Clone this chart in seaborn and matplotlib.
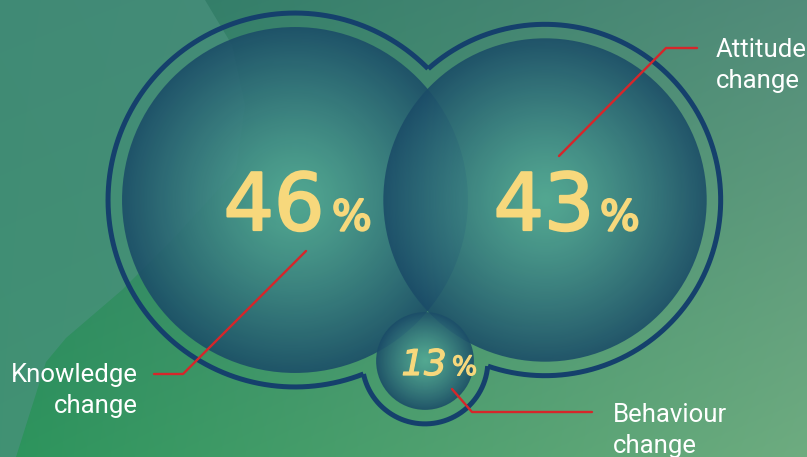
import numpy as np
import pandas as pd
import matplotlib
matplotlib.use("Agg")
import matplotlib.pyplot as plt
import matplotlib.patheffects as pe
import seaborn as sns
from matplotlib.patches import Circle, Polygon

# --- data -------------------------------------------------------------
categories = ["Knowledge\nchange", "Attitude\nchange", "Behaviour\nchange"]
shares = [46, 43, 13]

# --- layout (pixels, y grows downwards) -------------------------------
W, H = 807, 457
centers = [(295, 200), (545, 200), (425, 361)]
px_per_pct = 3.76          # circle radius per percentage point
ring_gap = 14              # distance from bubble edge to the outline
digit_size = [57, 57, 25.5]
pct_size = [30, 30, 19]
digit_pos = [(274, 230), (544, 230), (424, 375)]
pct_left = [332, 600, 452]
digit_style = ["normal", "normal", "italic"]
digit_stroke = [1.6, 1.6, 0.9]
label_pos = [(138, 382, "right"), (716, 57, "left"), (613, 422, "left")]
label_step = 31
leaders = [
    [(306, 251), (183, 374), (154, 374)],
    [(559, 156), (666, 48), (697, 48)],
    [(452, 389), (472, 412), (592, 412)],
]

YELLOW = "#f7d87c"
NAVY = "#15406c"
RED = "#d6262a"

sns.set_theme(style="white")
plt.rcParams["font.family"] = ["Roboto", "DejaVu Sans"]

fig = plt.figure(figsize=(W / 100, H / 100), dpi=100)
ax = fig.add_axes([0, 0, 1, 1])

# --- background gradient ----------------------------------------------
yy, xx = np.mgrid[0:H, 0:W]
u = xx / (W - 1)
v = yy / (H - 1)
TL = np.array([42, 122, 100]) / 255
TR = np.array([82, 140, 122]) / 255
BL = np.array([44, 148, 92]) / 255
BR = np.array([110, 172, 128]) / 255
bg = (TL * ((1 - u) * (1 - v))[..., None] + TR * (u * (1 - v))[..., None]
      + BL * ((1 - u) * v)[..., None] + BR * (u * v)[..., None])
ax.imshow(bg, extent=(0, W, H, 0), interpolation="bilinear", zorder=0)

# soft lighter shape on the left
shape = Polygon([(0, 0), (205, 0), (232, 45), (245, 105), (236, 170),
                 (172, 240), (122, 290), (66, 338), (46, 362), (16, 457),
                 (0, 457)], closed=True, facecolor=(0.29, 0.57, 0.49),
                alpha=0.7, edgecolor="none", zorder=1)
ax.add_patch(shape)

radii = [s * px_per_pct for s in shares]

# --- union outline around the bubbles ---------------------------------
outer = [r + ring_gap for r in radii]
theta = np.linspace(0, 2 * np.pi, 3000, endpoint=False)
for i, ((cx, cy), R) in enumerate(zip(centers, outer)):
    px = cx + R * np.cos(theta)
    py = cy + R * np.sin(theta)
    keep = np.ones_like(theta, dtype=bool)
    for j, ((ox, oy), Ro) in enumerate(zip(centers, outer)):
        if j != i:
            keep &= np.hypot(px - ox, py - oy) > Ro
    if not keep.any():
        continue
    start = np.argmin(keep) if not keep.all() else 0
    px, py, keep = np.roll(px, -start), np.roll(py, -start), np.roll(keep, -start)
    idx = np.flatnonzero(keep)
    runs = np.split(idx, np.flatnonzero(np.diff(idx) > 1) + 1)
    for run in runs:
        ax.plot(px[run], py[run], color=NAVY, lw=3.6,
                solid_capstyle="butt", zorder=2)

# --- bubbles with radial shading --------------------------------------
c_mid = np.array([84, 170, 150]) / 255
c_edge = np.array([27, 76, 104]) / 255
for (cx, cy), r in zip(centers, radii):
    n = int(2 * r) + 2
    gy, gx = np.mgrid[0:n, 0:n]
    d = np.hypot(gx - (n - 1) / 2, gy - (n - 1) / 2) / r
    t = np.clip(d, 0, 1) ** 1.25
    img = np.zeros((n, n, 4))
    img[..., :3] = c_mid * (1 - t[..., None]) + c_edge * t[..., None]
    img[..., 3] = 0.88
    im = ax.imshow(img, extent=(cx - n / 2, cx + n / 2, cy + n / 2, cy - n / 2),
                   interpolation="bilinear", zorder=3)
    im.set_clip_path(Circle((cx, cy), r, transform=ax.transData))

# --- leader lines -----------------------------------------------------
rows = []
for k, path in enumerate(leaders):
    for order, (x, y) in enumerate(path):
        rows.append({"x": x, "y": y, "grp": k, "order": order})
lead_df = pd.DataFrame(rows)
sns.lineplot(data=lead_df, x="x", y="y", units="grp", estimator=None,
             sort=False, color=RED, lw=1.7, legend=False, ax=ax, zorder=4)

# --- value texts ------------------------------------------------------
for s, (dx, dy), ds, pl, ps, st, sw in zip(shares, digit_pos, digit_size,
                                           pct_left, pct_size, digit_style,
                                           digit_stroke):
    fx = [pe.withStroke(linewidth=sw, foreground=YELLOW)]
    ax.text(dx, dy, f"{s}", ha="center", va="baseline", color=YELLOW,
            fontsize=ds, fontstyle=st, family=["DejaVu Sans"],
            path_effects=fx, zorder=5)
    ax.text(pl, dy, "%", ha="left", va="baseline", color=YELLOW,
            fontsize=ps, family=["DejaVu Sans"], path_effects=fx, zorder=5)

# --- category labels --------------------------------------------------
for lab, (lx, ly, al) in zip(categories, label_pos):
    for n, line in enumerate(lab.split("\n")):
        ax.text(lx, ly + n * label_step, line, ha=al, va="baseline",
                color="white", fontsize=18.5, zorder=5)

ax.set_xlim(0, W)
ax.set_ylim(H, 0)
ax.set_aspect("auto")
ax.axis("off")
fig.savefig("out.png", dpi=100)
